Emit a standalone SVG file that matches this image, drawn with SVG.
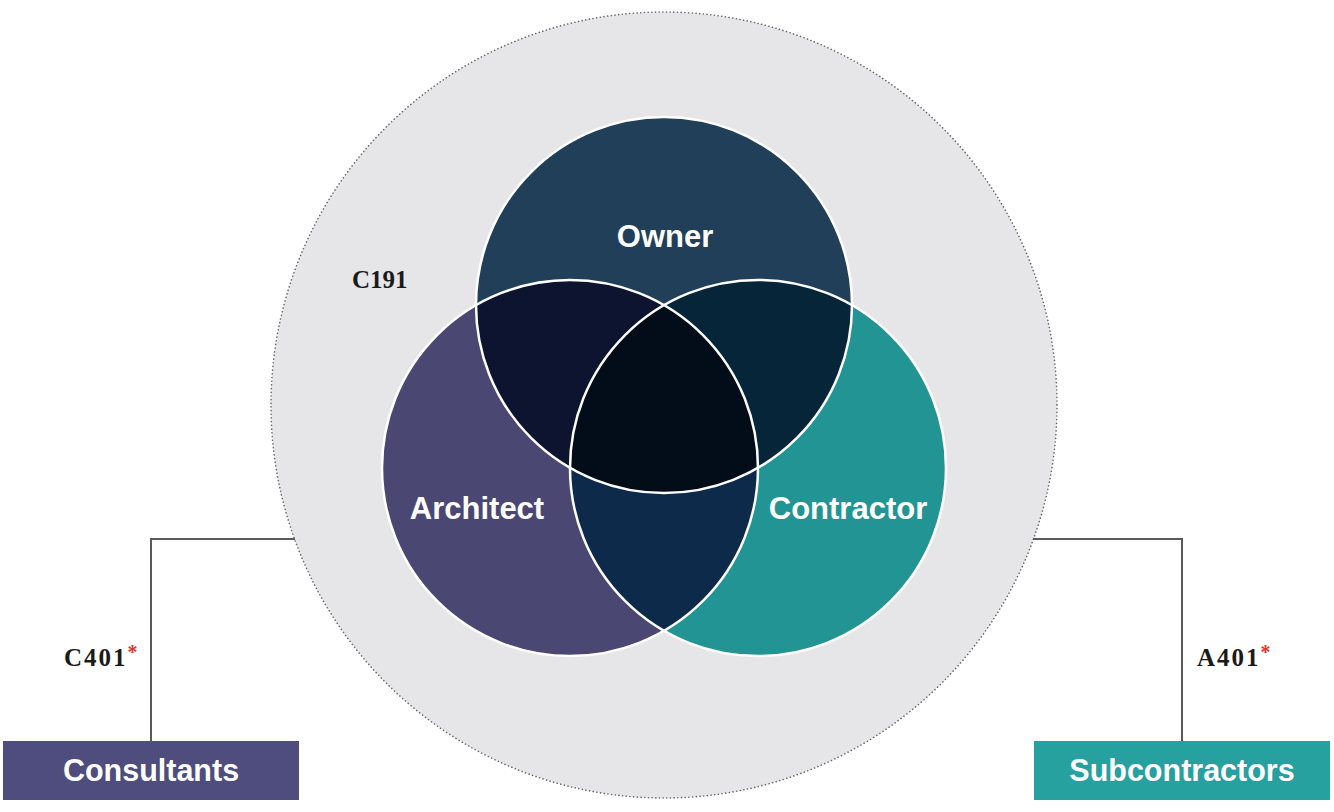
<svg xmlns="http://www.w3.org/2000/svg" width="1334" height="812" viewBox="0 0 1334 812">
<style>
.lbl{font-family:"Liberation Sans",Arial,sans-serif;font-weight:bold;fill:#fff;text-anchor:middle}
.code{font-family:"Liberation Serif","Times New Roman",serif;font-weight:bold;fill:#1a1a1a;font-size:25px}
.ast{fill:#e0332b}
.conn{fill:none;stroke:#5a5a5a;stroke-width:2}
.edge{fill:none;stroke:#fff;stroke-width:2.5}
</style>
<defs>
<clipPath id="cO"><circle cx="664" cy="305" r="188"/></clipPath>
<clipPath id="cA"><circle cx="570" cy="468" r="188"/></clipPath>
<clipPath id="cC"><circle cx="758" cy="468" r="188"/></clipPath>
</defs>
<rect width="1334" height="812" fill="#fff"/>
<g id="contract-scope">
<circle cx="664" cy="405" r="393" fill="#e6e6e8" stroke="#6a6a6a" stroke-width="1.6" stroke-dasharray="0.1 3.6" stroke-linecap="round"/>
<text class="code" x="352" y="288">C191</text>
</g>
<g id="connectors">
<polyline class="conn" points="295,539 151,539 151,741"/>
<polyline class="conn" points="1033,539 1182,539 1182,741"/>
<text class="code" x="64" y="666" letter-spacing="2">C401<tspan class="ast" dy="-7" font-size="20" letter-spacing="0">*</tspan></text>
<text class="code" x="1197" y="666" letter-spacing="2">A401<tspan class="ast" dy="-7" font-size="20" letter-spacing="0">*</tspan></text>
</g>
<g id="owner"><circle cx="664" cy="305" r="188" fill="#213f58"/></g>
<g id="architect"><circle cx="570" cy="468" r="188" fill="#4a4872"/></g>
<g id="contractor"><circle cx="758" cy="468" r="188" fill="#229494"/></g>
<g id="overlaps">
<circle cx="570" cy="468" r="188" fill="#0c1430" clip-path="url(#cO)"/>
<circle cx="758" cy="468" r="188" fill="#062539" clip-path="url(#cO)"/>
<circle cx="758" cy="468" r="188" fill="#0d2a4a" clip-path="url(#cA)"/>
<g clip-path="url(#cA)"><circle cx="758" cy="468" r="188" fill="#030d1a" clip-path="url(#cO)"/></g>
<circle class="edge" cx="664" cy="305" r="188"/>
<circle class="edge" cx="570" cy="468" r="188"/>
<circle class="edge" cx="758" cy="468" r="188"/>
</g>
<text class="lbl" x="665" y="247" font-size="31">Owner</text>
<text class="lbl" x="477" y="519" font-size="31">Architect</text>
<text class="lbl" x="848" y="519" font-size="31">Contractor</text>
<g id="consultants">
<rect x="3" y="741" width="296" height="59" fill="#4f4c7e"/>
<text class="lbl" x="151" y="781" font-size="30.5">Consultants</text>
</g>
<g id="subcontractors">
<rect x="1034" y="741" width="296" height="59" fill="#27a0a0"/>
<text class="lbl" x="1182" y="781" font-size="30.5">Subcontractors</text>
</g>
</svg>
